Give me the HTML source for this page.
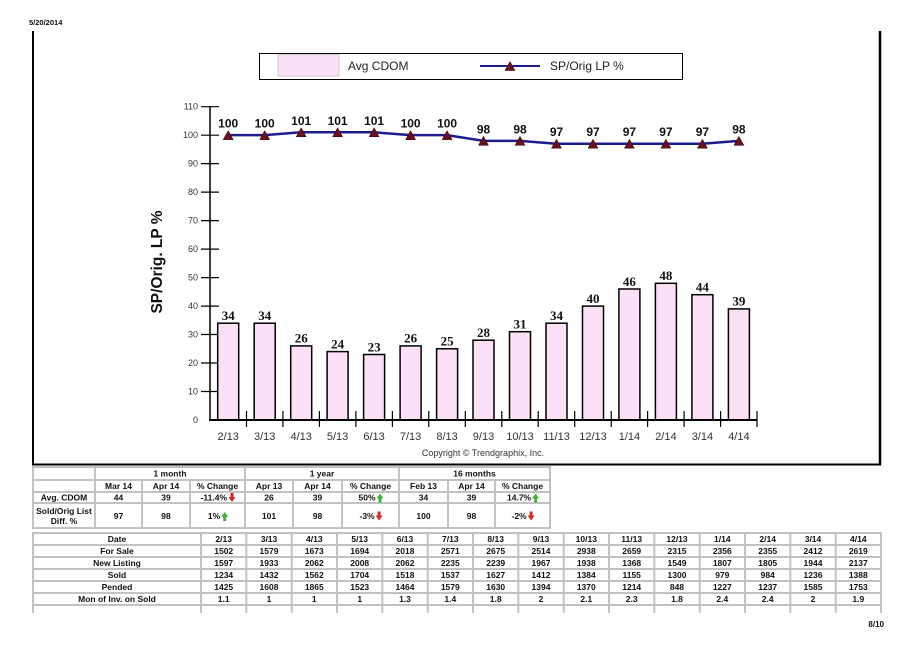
<!DOCTYPE html>
<html><head><meta charset="utf-8"><style>
html,body{margin:0;padding:0;background:#fff;}
svg{display:block;}
text{font-family:"Liberation Sans",Arial,sans-serif;}
.t{font-size:8.5px;font-weight:bold;fill:#111;text-anchor:middle;dominant-baseline:central;}
.tk{font-size:9px;fill:#333;text-anchor:end;dominant-baseline:central;}
.xl{font-size:11px;fill:#333;text-anchor:middle;}
.bl{font-family:"Liberation Serif","Times New Roman",serif;font-size:13px;font-weight:bold;fill:#111;text-anchor:middle;}
.ll{font-size:12px;font-weight:bold;fill:#111;text-anchor:middle;}
</style></head><body>
<svg width="913" height="645" viewBox="0 0 913 645" xmlns="http://www.w3.org/2000/svg">
<rect width="913" height="645" fill="#fff"/>
<text x="29" y="25" style="font-size:7.5px;font-weight:bold;fill:#111">5/20/2014</text>
<!-- frame -->
<line x1="33" y1="31" x2="33" y2="465" stroke="#000" stroke-width="2"/>
<line x1="880" y1="31" x2="880" y2="465" stroke="#000" stroke-width="2.5"/>
<line x1="32" y1="464.5" x2="881" y2="464.5" stroke="#000" stroke-width="2"/>
<!-- legend -->
<rect x="259.5" y="53.5" width="423" height="26" fill="#fff" stroke="#000" stroke-width="1"/>
<rect x="278" y="54.5" width="61" height="21.5" fill="#fbe0f7" stroke="#b8a8b8" stroke-width="0.6"/>
<text x="348" y="70" style="font-size:12px;fill:#222">Avg CDOM</text>
<line x1="480" y1="66" x2="540" y2="66" stroke="#1c1c8c" stroke-width="2"/>
<polygon points="505,70.5 515,70.5 510,61.5" fill="#6a0f1e" stroke="#300" stroke-width="0.5"/>
<text x="550" y="70" style="font-size:12px;fill:#222">SP/Orig LP %</text>
<!-- y axis title -->
<text transform="translate(162,262) rotate(-90)" style="font-size:15.5px;font-weight:bold;fill:#111;text-anchor:middle">SP/Orig. LP %</text>
<!-- y axis -->
<line x1="210" y1="106" x2="210" y2="421" stroke="#000" stroke-width="1.5"/>
<g stroke="#000" stroke-width="1.2">
<line x1="201" y1="106.7" x2="219" y2="106.7"/>
<line x1="201" y1="135.2" x2="219" y2="135.2"/>
<line x1="201" y1="163.6" x2="219" y2="163.6"/>
<line x1="201" y1="192.1" x2="219" y2="192.1"/>
<line x1="201" y1="220.6" x2="219" y2="220.6"/>
<line x1="201" y1="249.1" x2="219" y2="249.1"/>
<line x1="201" y1="277.6" x2="219" y2="277.6"/>
<line x1="201" y1="306.1" x2="219" y2="306.1"/>
<line x1="201" y1="334.5" x2="219" y2="334.5"/>
<line x1="201" y1="363.0" x2="219" y2="363.0"/>
<line x1="201" y1="391.5" x2="219" y2="391.5"/>
</g>
<g class="tkg">
<text class="tk" x="198" y="106.7">110</text>
<text class="tk" x="198" y="135.2">100</text>
<text class="tk" x="198" y="163.6">90</text>
<text class="tk" x="198" y="192.1">80</text>
<text class="tk" x="198" y="220.6">70</text>
<text class="tk" x="198" y="249.1">60</text>
<text class="tk" x="198" y="277.6">50</text>
<text class="tk" x="198" y="306.1">40</text>
<text class="tk" x="198" y="334.5">30</text>
<text class="tk" x="198" y="363.0">20</text>
<text class="tk" x="198" y="391.5">10</text>
<text class="tk" x="198" y="420">0</text>
</g>
<!-- bars -->
<g fill="#fbe0f7" stroke="#000" stroke-width="1.5">
<rect x="217.7" y="323.2" width="21" height="96.8"/>
<rect x="254.2" y="323.2" width="21" height="96.8"/>
<rect x="290.7" y="345.9" width="21" height="74.1"/>
<rect x="327.1" y="351.6" width="21" height="68.4"/>
<rect x="363.6" y="354.5" width="21" height="65.5"/>
<rect x="400.1" y="345.9" width="21" height="74.1"/>
<rect x="436.6" y="348.8" width="21" height="71.2"/>
<rect x="473.0" y="340.2" width="21" height="79.8"/>
<rect x="509.5" y="331.7" width="21" height="88.3"/>
<rect x="546.0" y="323.2" width="21" height="96.8"/>
<rect x="582.5" y="306.1" width="21" height="113.9"/>
<rect x="618.9" y="289.0" width="21" height="131.0"/>
<rect x="655.4" y="283.3" width="21" height="136.7"/>
<rect x="691.9" y="294.7" width="21" height="125.3"/>
<rect x="728.4" y="308.9" width="21" height="111.1"/>
</g>
<g>
<text class="bl" x="228.2" y="320">34</text>
<text class="bl" x="264.7" y="320">34</text>
<text class="bl" x="301.2" y="342.7">26</text>
<text class="bl" x="337.6" y="348.4">24</text>
<text class="bl" x="374.1" y="351.3">23</text>
<text class="bl" x="410.6" y="342.7">26</text>
<text class="bl" x="447.1" y="345.6">25</text>
<text class="bl" x="483.5" y="337">28</text>
<text class="bl" x="520.0" y="328.5">31</text>
<text class="bl" x="556.5" y="320">34</text>
<text class="bl" x="593.0" y="302.9">40</text>
<text class="bl" x="629.4" y="285.8">46</text>
<text class="bl" x="665.9" y="280.1">48</text>
<text class="bl" x="702.4" y="291.5">44</text>
<text class="bl" x="738.9" y="305.7">39</text>
</g>
<!-- x axis -->
<line x1="209" y1="420" x2="757.5" y2="420" stroke="#000" stroke-width="2"/>
<g stroke="#000" stroke-width="1.2">
<line x1="246.5" y1="411" x2="246.5" y2="427"/>
<line x1="282.9" y1="411" x2="282.9" y2="427"/>
<line x1="319.4" y1="411" x2="319.4" y2="427"/>
<line x1="355.9" y1="411" x2="355.9" y2="427"/>
<line x1="392.4" y1="411" x2="392.4" y2="427"/>
<line x1="428.8" y1="411" x2="428.8" y2="427"/>
<line x1="465.3" y1="411" x2="465.3" y2="427"/>
<line x1="501.8" y1="411" x2="501.8" y2="427"/>
<line x1="538.2" y1="411" x2="538.2" y2="427"/>
<line x1="574.7" y1="411" x2="574.7" y2="427"/>
<line x1="611.2" y1="411" x2="611.2" y2="427"/>
<line x1="647.6" y1="411" x2="647.6" y2="427"/>
<line x1="684.1" y1="411" x2="684.1" y2="427"/>
<line x1="720.6" y1="411" x2="720.6" y2="427"/>
<line x1="757" y1="411" x2="757" y2="427"/>
</g>
<g>
<text class="xl" x="228.2" y="440">2/13</text>
<text class="xl" x="264.7" y="440">3/13</text>
<text class="xl" x="301.2" y="440">4/13</text>
<text class="xl" x="337.6" y="440">5/13</text>
<text class="xl" x="374.1" y="440">6/13</text>
<text class="xl" x="410.6" y="440">7/13</text>
<text class="xl" x="447.1" y="440">8/13</text>
<text class="xl" x="483.5" y="440">9/13</text>
<text class="xl" x="520.0" y="440">10/13</text>
<text class="xl" x="556.5" y="440">11/13</text>
<text class="xl" x="593.0" y="440">12/13</text>
<text class="xl" x="629.4" y="440">1/14</text>
<text class="xl" x="665.9" y="440">2/14</text>
<text class="xl" x="702.4" y="440">3/14</text>
<text class="xl" x="738.9" y="440">4/14</text>
</g>
<text x="483" y="456" style="font-size:9px;fill:#333;text-anchor:middle">Copyright © Trendgraphix, Inc.</text>
<!-- line series -->
<polyline fill="none" stroke="#1c1c8c" stroke-width="2.5" points="228.2,135.15 264.7,135.15 301.2,132.3 337.6,132.3 374.1,132.3 410.6,135.15 447.1,135.15 483.5,140.85 520.0,140.85 556.5,143.7 593.0,143.7 629.4,143.7 665.9,143.7 702.4,143.7 738.9,140.85"/>
<g fill="#6a0f1e" stroke="#300" stroke-width="0.5">
<polygon points="223.2,139.65 233.2,139.65 228.2,130.65"/>
<polygon points="259.7,139.65 269.7,139.65 264.7,130.65"/>
<polygon points="296.2,136.8 306.2,136.8 301.2,127.8"/>
<polygon points="332.6,136.8 342.6,136.8 337.6,127.8"/>
<polygon points="369.1,136.8 379.1,136.8 374.1,127.8"/>
<polygon points="405.6,139.65 415.6,139.65 410.6,130.65"/>
<polygon points="442.1,139.65 452.1,139.65 447.1,130.65"/>
<polygon points="478.5,145.35 488.5,145.35 483.5,136.35"/>
<polygon points="515.0,145.35 525.0,145.35 520.0,136.35"/>
<polygon points="551.5,148.2 561.5,148.2 556.5,139.2"/>
<polygon points="588.0,148.2 598.0,148.2 593.0,139.2"/>
<polygon points="624.4,148.2 634.4,148.2 629.4,139.2"/>
<polygon points="660.9,148.2 670.9,148.2 665.9,139.2"/>
<polygon points="697.4,148.2 707.4,148.2 702.4,139.2"/>
<polygon points="733.9,145.35 743.9,145.35 738.9,136.35"/>
</g>
<g>
<text class="ll" x="228.2" y="127.7">100</text>
<text class="ll" x="264.7" y="127.7">100</text>
<text class="ll" x="301.2" y="124.8">101</text>
<text class="ll" x="337.6" y="124.8">101</text>
<text class="ll" x="374.1" y="124.8">101</text>
<text class="ll" x="410.6" y="127.7">100</text>
<text class="ll" x="447.1" y="127.7">100</text>
<text class="ll" x="483.5" y="133.3">98</text>
<text class="ll" x="520.0" y="133.3">98</text>
<text class="ll" x="556.5" y="136.2">97</text>
<text class="ll" x="593.0" y="136.2">97</text>
<text class="ll" x="629.4" y="136.2">97</text>
<text class="ll" x="665.9" y="136.2">97</text>
<text class="ll" x="702.4" y="136.2">97</text>
<text class="ll" x="738.9" y="133.3">98</text>
</g>

<!-- TABLE 1 -->
<g stroke="#c2c2c2" stroke-width="2" fill="none">
<rect x="33" y="467" width="517" height="61"/>
<line x1="33" y1="480" x2="550" y2="480"/>
<line x1="33" y1="492" x2="550" y2="492"/>
<line x1="33" y1="503" x2="550" y2="503"/>
<line x1="95" y1="467" x2="95" y2="528"/>
<line x1="245" y1="467" x2="245" y2="528"/>
<line x1="399" y1="467" x2="399" y2="528"/>
<line x1="142" y1="480" x2="142" y2="528"/>
<line x1="190" y1="480" x2="190" y2="528"/>
<line x1="293" y1="480" x2="293" y2="528"/>
<line x1="342" y1="480" x2="342" y2="528"/>
<line x1="448" y1="480" x2="448" y2="528"/>
<line x1="495" y1="480" x2="495" y2="528"/>
</g>
<g>
<text class="t" x="170" y="473.5">1 month</text>
<text class="t" x="322" y="473.5">1 year</text>
<text class="t" x="474.5" y="473.5">16 months</text>
<text class="t" x="118.5" y="486">Mar 14</text>
<text class="t" x="166" y="486">Apr 14</text>
<text class="t" x="217.5" y="486">% Change</text>
<text class="t" x="269" y="486">Apr 13</text>
<text class="t" x="317.5" y="486">Apr 14</text>
<text class="t" x="370.5" y="486">% Change</text>
<text class="t" x="423.5" y="486">Feb 13</text>
<text class="t" x="471.5" y="486">Apr 14</text>
<text class="t" x="522.5" y="486">% Change</text>
<text class="t" x="64" y="497.5">Avg. CDOM</text>
<text class="t" x="118.5" y="497.5">44</text>
<text class="t" x="166" y="497.5">39</text>
<text class="t" x="200.6" y="497.5" style="text-anchor:start">-11.4%</text>
<text class="t" x="269" y="497.5">26</text>
<text class="t" x="317.5" y="497.5">39</text>
<text class="t" x="358.5" y="497.5" style="text-anchor:start">50%</text>
<text class="t" x="423.5" y="497.5">34</text>
<text class="t" x="471.5" y="497.5">39</text>
<text class="t" x="507" y="497.5" style="text-anchor:start">14.7%</text>
<text class="t" x="64" y="511">Sold/Orig List</text>
<text class="t" x="64" y="521">Diff. %</text>
<text class="t" x="118.5" y="516">97</text>
<text class="t" x="166" y="516">98</text>
<text class="t" x="207.9" y="516" style="text-anchor:start">1%</text>
<text class="t" x="269" y="516">101</text>
<text class="t" x="317.5" y="516">98</text>
<text class="t" x="359.5" y="516" style="text-anchor:start">-3%</text>
<text class="t" x="423.5" y="516">100</text>
<text class="t" x="471.5" y="516">98</text>
<text class="t" x="511.5" y="516" style="text-anchor:start">-2%</text>
</g>
<!-- arrows: down red, up green -->
<g fill="#d8262b">
<path d="M230.5,493 h3 v4 h2 l-3.5,5 l-3.5,-5 h2 z"/>
<path d="M377.6,511.5 h3 v4 h2 l-3.5,5 l-3.5,-5 h2 z"/>
<path d="M529.6,511.5 h3 v4 h2 l-3.5,5 l-3.5,-5 h2 z"/>
</g>
<g fill="#44b03a">
<path d="M223.2,521 h3 v-4 h2 l-3.5,-5 l-3.5,5 h2 z"/>
<path d="M378.5,502.5 h3 v-4 h2 l-3.5,-5 l-3.5,5 h2 z"/>
<path d="M534.1,502.5 h3 v-4 h2 l-3.5,-5 l-3.5,5 h2 z"/>
</g>

<!-- TABLE 2 -->
<g stroke="#c2c2c2" stroke-width="2" fill="none">
<line x1="33" y1="533" x2="881" y2="533"/>
<line x1="33" y1="545" x2="881" y2="545"/>
<line x1="33" y1="557" x2="881" y2="557"/>
<line x1="33" y1="569" x2="881" y2="569"/>
<line x1="33" y1="581" x2="881" y2="581"/>
<line x1="33" y1="593" x2="881" y2="593"/>
<line x1="33" y1="605" x2="881" y2="605"/>
<line x1="33" y1="532" x2="33" y2="613"/>
<line x1="201" y1="532" x2="201" y2="613"/>
<line x1="246.3" y1="532" x2="246.3" y2="613"/>
<line x1="291.7" y1="532" x2="291.7" y2="613"/>
<line x1="337" y1="532" x2="337" y2="613"/>
<line x1="382.3" y1="532" x2="382.3" y2="613"/>
<line x1="427.7" y1="532" x2="427.7" y2="613"/>
<line x1="473" y1="532" x2="473" y2="613"/>
<line x1="518.3" y1="532" x2="518.3" y2="613"/>
<line x1="563.7" y1="532" x2="563.7" y2="613"/>
<line x1="609" y1="532" x2="609" y2="613"/>
<line x1="654.3" y1="532" x2="654.3" y2="613"/>
<line x1="699.7" y1="532" x2="699.7" y2="613"/>
<line x1="745" y1="532" x2="745" y2="613"/>
<line x1="790.3" y1="532" x2="790.3" y2="613"/>
<line x1="835.7" y1="532" x2="835.7" y2="613"/>
<line x1="881" y1="532" x2="881" y2="613"/>
</g>
<g>
<text class="t" x="117" y="539">Date</text>
<text class="t" x="117" y="551">For Sale</text>
<text class="t" x="117" y="563">New Listing</text>
<text class="t" x="117" y="575">Sold</text>
<text class="t" x="117" y="587">Pended</text>
<text class="t" x="117" y="599">Mon of Inv. on Sold</text>
</g>
<g>
<text class="t" x="223.7" y="539">2/13</text><text class="t" x="269" y="539">3/13</text><text class="t" x="314.3" y="539">4/13</text><text class="t" x="359.7" y="539">5/13</text><text class="t" x="405" y="539">6/13</text><text class="t" x="450.3" y="539">7/13</text><text class="t" x="495.7" y="539">8/13</text><text class="t" x="541" y="539">9/13</text><text class="t" x="586.3" y="539">10/13</text><text class="t" x="631.7" y="539">11/13</text><text class="t" x="677" y="539">12/13</text><text class="t" x="722.3" y="539">1/14</text><text class="t" x="767.7" y="539">2/14</text><text class="t" x="813" y="539">3/14</text><text class="t" x="858.3" y="539">4/14</text>
<text class="t" x="223.7" y="551">1502</text><text class="t" x="269" y="551">1579</text><text class="t" x="314.3" y="551">1673</text><text class="t" x="359.7" y="551">1694</text><text class="t" x="405" y="551">2018</text><text class="t" x="450.3" y="551">2571</text><text class="t" x="495.7" y="551">2675</text><text class="t" x="541" y="551">2514</text><text class="t" x="586.3" y="551">2938</text><text class="t" x="631.7" y="551">2659</text><text class="t" x="677" y="551">2315</text><text class="t" x="722.3" y="551">2356</text><text class="t" x="767.7" y="551">2355</text><text class="t" x="813" y="551">2412</text><text class="t" x="858.3" y="551">2619</text>
<text class="t" x="223.7" y="563">1597</text><text class="t" x="269" y="563">1933</text><text class="t" x="314.3" y="563">2062</text><text class="t" x="359.7" y="563">2008</text><text class="t" x="405" y="563">2062</text><text class="t" x="450.3" y="563">2235</text><text class="t" x="495.7" y="563">2239</text><text class="t" x="541" y="563">1967</text><text class="t" x="586.3" y="563">1938</text><text class="t" x="631.7" y="563">1368</text><text class="t" x="677" y="563">1549</text><text class="t" x="722.3" y="563">1807</text><text class="t" x="767.7" y="563">1805</text><text class="t" x="813" y="563">1944</text><text class="t" x="858.3" y="563">2137</text>
<text class="t" x="223.7" y="575">1234</text><text class="t" x="269" y="575">1432</text><text class="t" x="314.3" y="575">1562</text><text class="t" x="359.7" y="575">1704</text><text class="t" x="405" y="575">1518</text><text class="t" x="450.3" y="575">1537</text><text class="t" x="495.7" y="575">1627</text><text class="t" x="541" y="575">1412</text><text class="t" x="586.3" y="575">1384</text><text class="t" x="631.7" y="575">1155</text><text class="t" x="677" y="575">1300</text><text class="t" x="722.3" y="575">979</text><text class="t" x="767.7" y="575">984</text><text class="t" x="813" y="575">1236</text><text class="t" x="858.3" y="575">1388</text>
<text class="t" x="223.7" y="587">1425</text><text class="t" x="269" y="587">1608</text><text class="t" x="314.3" y="587">1865</text><text class="t" x="359.7" y="587">1523</text><text class="t" x="405" y="587">1464</text><text class="t" x="450.3" y="587">1579</text><text class="t" x="495.7" y="587">1630</text><text class="t" x="541" y="587">1394</text><text class="t" x="586.3" y="587">1370</text><text class="t" x="631.7" y="587">1214</text><text class="t" x="677" y="587">848</text><text class="t" x="722.3" y="587">1227</text><text class="t" x="767.7" y="587">1237</text><text class="t" x="813" y="587">1585</text><text class="t" x="858.3" y="587">1753</text>
<text class="t" x="223.7" y="599">1.1</text><text class="t" x="269" y="599">1</text><text class="t" x="314.3" y="599">1</text><text class="t" x="359.7" y="599">1</text><text class="t" x="405" y="599">1.3</text><text class="t" x="450.3" y="599">1.4</text><text class="t" x="495.7" y="599">1.8</text><text class="t" x="541" y="599">2</text><text class="t" x="586.3" y="599">2.1</text><text class="t" x="631.7" y="599">2.3</text><text class="t" x="677" y="599">1.8</text><text class="t" x="722.3" y="599">2.4</text><text class="t" x="767.7" y="599">2.4</text><text class="t" x="813" y="599">2</text><text class="t" x="858.3" y="599">1.9</text>
</g>
<text x="884" y="627" style="font-size:8px;font-weight:bold;fill:#111;text-anchor:end">8/10</text>
</svg>
</body></html>
